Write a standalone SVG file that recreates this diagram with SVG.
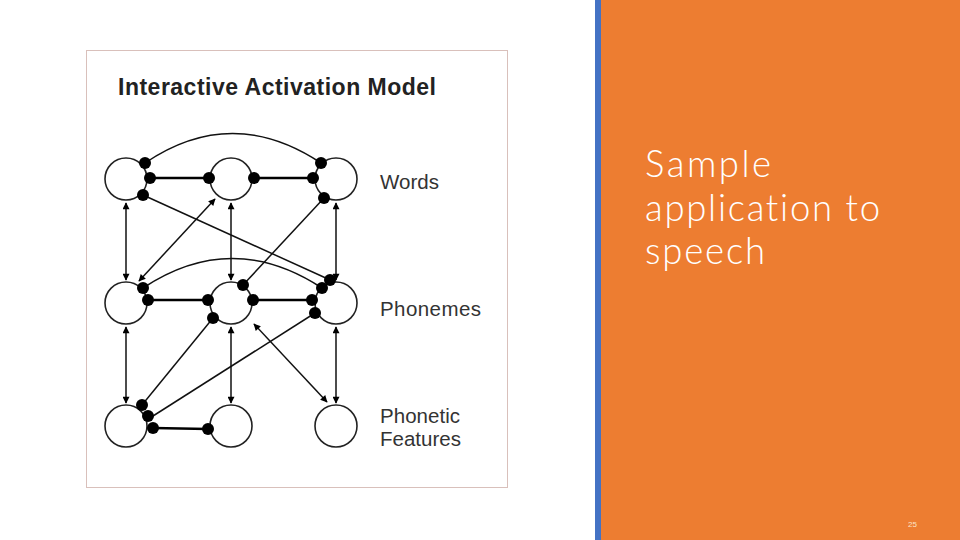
<svg xmlns="http://www.w3.org/2000/svg" width="960" height="540" viewBox="0 0 960 540">
<defs>
<marker id="ah" viewBox="0 0 10 10" refX="9" refY="5" markerWidth="8" markerHeight="7" markerUnits="userSpaceOnUse" orient="auto-start-reverse">
<path d="M0,0 L10,5 L0,10 Z" fill="#000"/>
</marker>
<style>
.node{fill:#fff;stroke:#222;stroke-width:1.6}
.dot{fill:#000}
.link{stroke:#000;stroke-width:2.6;fill:none}
.thin{stroke:#111;stroke-width:1.5;fill:none}
.arr{stroke:#111;stroke-width:1.5;fill:none;marker-start:url(#ah);marker-end:url(#ah)}
.lbl{font-family:"Liberation Sans",Arial,sans-serif;font-size:20.5px;fill:#333}
.big{font-family:Lato,"Open Sans","Liberation Sans",sans-serif;font-weight:300;font-size:36.5px;fill:#fff;font-variant-ligatures:none;font-feature-settings:"liga" 0}
</style>
</defs>
<rect x="0" y="0" width="960" height="540" fill="#fff"/>
<rect x="601" y="0" width="359" height="540" fill="#ED7D31"/>
<rect x="595" y="0" width="6" height="540" fill="#4472C4"/>
<rect x="86.5" y="50.5" width="421" height="437" fill="#fff" stroke="#d9c0bb" stroke-width="1"/>
<text x="118" y="95" font-family="Liberation Sans,Arial,sans-serif" font-weight="bold" font-size="23" fill="#222" textLength="318">Interactive Activation Model</text>

<g id="connectors">
<path class="thin" d="M145,163 Q232,104 321,163"/>
<path class="thin" d="M143,288 Q232,229 322,288"/>
<line class="link" x1="150" y1="178" x2="208" y2="178"/>
<line class="link" x1="254" y1="178" x2="313" y2="178"/>
<line class="link" x1="148" y1="300" x2="208" y2="300"/>
<line class="link" x1="253" y1="300" x2="312" y2="300"/>
<line class="link" x1="153" y1="428" x2="208" y2="429"/>
<line class="thin" x1="143" y1="195" x2="328" y2="279"/>
<line class="thin" x1="324" y1="198" x2="243" y2="285"/>
<line class="thin" x1="315" y1="313" x2="153" y2="416"/>
<line class="thin" x1="213" y1="318" x2="142" y2="405"/>
<line class="arr" x1="126" y1="203" x2="126" y2="280"/>
<line class="arr" x1="231" y1="203" x2="231" y2="280"/>
<line class="arr" x1="336" y1="203" x2="336" y2="280"/>
<line class="arr" x1="126" y1="327" x2="126" y2="403"/>
<line class="arr" x1="231" y1="327" x2="231" y2="403"/>
<line class="arr" x1="336" y1="327" x2="336" y2="403"/>
<line class="arr" x1="215" y1="199" x2="139" y2="281"/>
<line class="arr" x1="254" y1="324" x2="327" y2="402"/>
</g>

<g id="word-left"><circle class="node" cx="126" cy="179" r="21"/><circle class="dot" cx="145" cy="163" r="6"/><circle class="dot" cx="150" cy="178" r="6"/><circle class="dot" cx="143" cy="195" r="6"/></g>
<g id="word-mid"><circle class="node" cx="231" cy="179" r="21"/><circle class="dot" cx="209" cy="178" r="6"/><circle class="dot" cx="254" cy="178" r="6"/></g>
<g id="word-right"><circle class="node" cx="336" cy="179" r="21"/><circle class="dot" cx="321" cy="163" r="6"/><circle class="dot" cx="313" cy="178" r="6"/><circle class="dot" cx="324" cy="198" r="6"/></g>

<g id="phon-left"><circle class="node" cx="126" cy="303" r="21"/><circle class="dot" cx="143" cy="288" r="6"/><circle class="dot" cx="148" cy="300" r="6"/></g>
<g id="phon-mid"><circle class="node" cx="231" cy="303" r="21"/><circle class="dot" cx="208" cy="300" r="6"/><circle class="dot" cx="243" cy="285" r="6"/><circle class="dot" cx="253" cy="300" r="6"/><circle class="dot" cx="213" cy="318" r="6"/></g>
<g id="phon-right"><circle class="node" cx="336" cy="303" r="21"/><circle class="dot" cx="330" cy="280" r="6"/><circle class="dot" cx="322" cy="288" r="6"/><circle class="dot" cx="312" cy="300" r="6"/><circle class="dot" cx="315" cy="313" r="6"/></g>

<g id="feat-left"><circle class="node" cx="126" cy="426" r="21"/><circle class="dot" cx="142" cy="405" r="6"/><circle class="dot" cx="148" cy="416" r="6"/><circle class="dot" cx="153" cy="428" r="6"/></g>
<g id="feat-mid"><circle class="node" cx="231" cy="426" r="21"/><circle class="dot" cx="208" cy="429" r="6"/></g>
<g id="feat-right"><circle class="node" cx="336" cy="426" r="21"/></g>

<g id="labels">
<text class="lbl" x="380" y="189" textLength="59">Words</text>
<text class="lbl" x="380" y="316" textLength="101">Phonemes</text>
<text class="lbl" x="380" y="423" textLength="80">Phonetic</text>
<text class="lbl" x="380" y="446" textLength="81">Features</text>
</g>

<g id="title-right">
<text class="big" x="645" y="177" textLength="126">Sample</text>
<text class="big" x="645" y="221" textLength="235">application to</text>
<text class="big" x="645" y="264" textLength="120">speech</text>
</g>
<text x="908" y="527" font-family="Liberation Sans,Arial,sans-serif" font-size="8" fill="#fbe3c8">25</text>
</svg>
